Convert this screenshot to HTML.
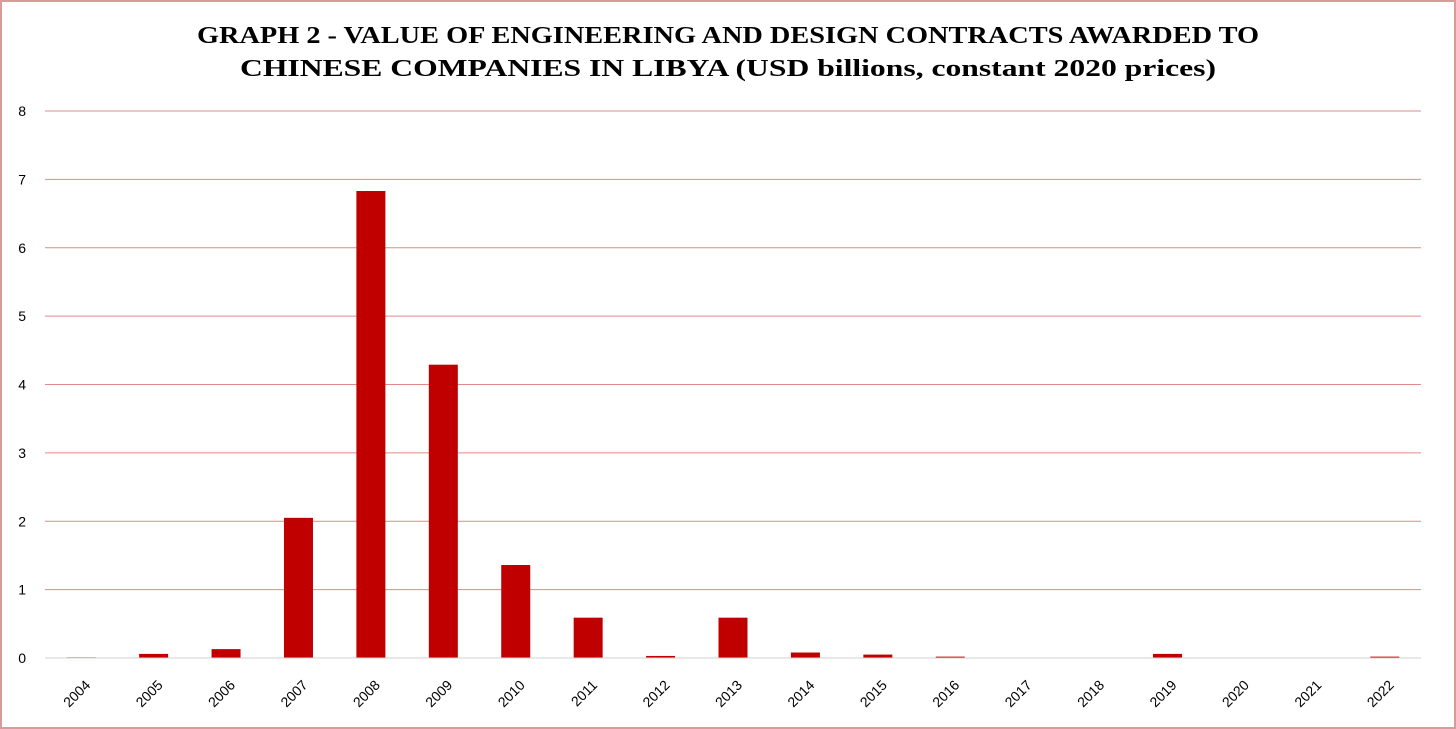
<!DOCTYPE html>
<html><head><meta charset="utf-8"><style>
html,body{margin:0;padding:0;background:#fff}
#frame{position:absolute;left:0;top:0;width:1452px;height:725px;border:2px solid #d99a9a}
</style></head><body>
<div id="frame"></div>
<svg id="chart" width="1456" height="729" style="position:absolute;left:0;top:0">
<text x="197" y="43" textLength="1062" lengthAdjust="spacingAndGlyphs" font-family="Liberation Serif, serif" font-weight="bold" font-size="24">GRAPH 2 - VALUE OF ENGINEERING AND DESIGN CONTRACTS AWARDED TO</text>
<text x="240" y="76" textLength="976" lengthAdjust="spacingAndGlyphs" font-family="Liberation Serif, serif" font-weight="bold" font-size="24">CHINESE COMPANIES IN LIBYA (USD billions, constant 2020 prices)</text>
</svg>
<script>
const categories=["2004","2005","2006","2007","2008","2009","2010","2011","2012","2013","2014","2015","2016","2017","2018","2019","2020","2021","2022"];
const values=[0.01,0.06,0.13,2.05,6.83,4.29,1.36,0.59,0.03,0.59,0.08,0.05,0.02,0,0,0.06,0,0,0.02];
const yTicks=[0,1,2,3,4,5,6,7,8];
const svg=document.getElementById('chart');
const NS='http://www.w3.org/2000/svg';
const x0=45,x1=1421,y0=658,yTop=111,yMax=8;
const bandW=(x1-x0)/categories.length;
const yS=v=>y0-(v/yMax)*(y0-yTop);
const xC=i=>x0+bandW*(i+0.5);
function mk(t,a){const e=document.createElementNS(NS,t);for(const k in a)e.setAttribute(k,a[k]);svg.appendChild(e);return e;}
yTicks.forEach(v=>{
  if(v>0){const l=mk('line',{x1:x0,x2:x1,y1:yS(v),y2:yS(v),stroke:'#e08a8a','stroke-width':1});
  
  }
  const t=mk('text',{x:26,y:yS(v)+5,'text-anchor':'end','font-family':'Liberation Sans, sans-serif','font-size':14,fill:'#000'});
  t.textContent=v;
  
  
});
categories.forEach((c,i)=>{
  const h=y0-yS(values[i]);
  const b=mk('rect',{x:xC(i)-14.5,y:yS(values[i]),width:29,height:Math.max(h,0),fill:'#c00000'});
  
  
  const cx=xC(i),cy=y0+20;
  const t=mk('text',{x:cx+10,y:cy+8,'text-anchor':'end','font-family':'Liberation Sans, sans-serif','font-size':14,transform:`rotate(-45 ${cx+10} ${cy+8})`});
  t.textContent=c;
  
  
});
const ax=mk('line',{x1:x0,x2:x1,y1:y0,y2:y0,stroke:'#d0d0d0','stroke-width':1});


</script>
</body></html>
